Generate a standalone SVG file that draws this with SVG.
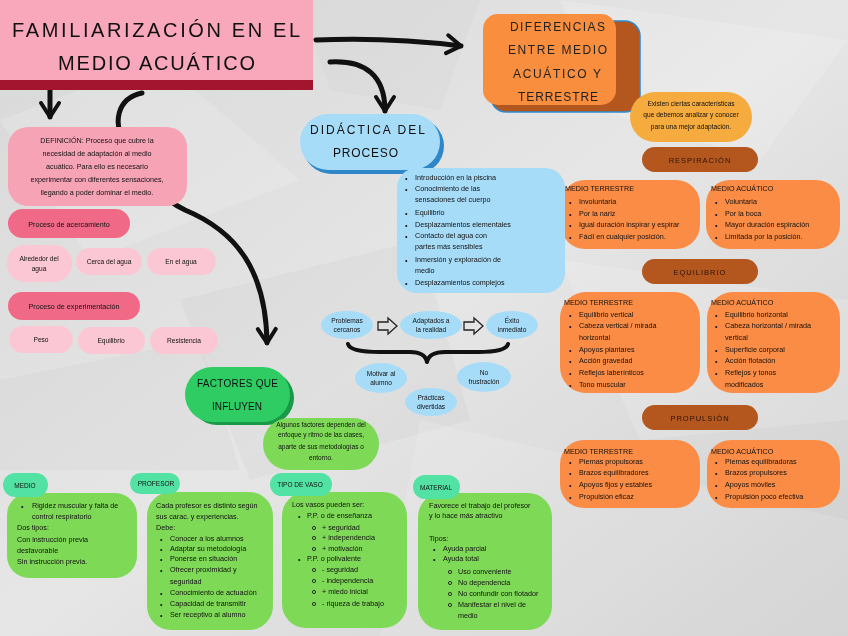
<svg xmlns="http://www.w3.org/2000/svg" width="848" height="636" viewBox="0 0 848 636">
<defs>
<linearGradient id="bg" x1="0" y1="0" x2="1" y2="1">
<stop offset="0" stop-color="#d8d8d8"/><stop offset="0.5" stop-color="#e6e6e6"/><stop offset="1" stop-color="#cfcfcf"/>
</linearGradient>
<marker id="chev" viewBox="0 0 24 24" markerWidth="24" markerHeight="24" refX="19" refY="12" orient="auto" markerUnits="userSpaceOnUse">
<path d="M5,3 L19,12 L5,21" fill="none" stroke="#111" stroke-width="4" stroke-linecap="round" stroke-linejoin="round"/>
</marker>
<style>
text{font-family:"Liberation Sans",Arial,sans-serif;fill:#111}
.s{font-size:7.2px}
.xs{font-size:6.6px}
.c{text-anchor:middle}
.hd{font-size:12px;fill:#222}
.pill{font-size:7.5px;letter-spacing:1px;fill:#2a1408}
.lb{font-size:6.5px}
.conn{fill:none;stroke:#111;stroke-width:5;stroke-linecap:round}
.orange{fill:#fb8c45}
.brown{fill:#b4571f}
.lblue{fill:#a7dcf8}
.lgreen{fill:#7ed957}
.teal{fill:#52e3a4}
.lpink{fill:#fcc7d4}
.dpink{fill:#f06a88}
</style>
</defs>
<rect width="848" height="636" fill="url(#bg)"/>
<g opacity="0.5">
<polygon points="0,120 160,60 300,180 90,260" fill="#fff" opacity="0.3"/>
<polygon points="560,0 848,40 760,160 600,110" fill="#fff" opacity="0.35"/>
<polygon points="180,300 420,240 470,420 250,480" fill="#bdbdbd" opacity="0.25"/>
<polygon points="560,260 848,300 848,420 640,440" fill="#fff" opacity="0.3"/>
<polygon points="0,380 200,340 240,470 0,470" fill="#c4c4c4" opacity="0.3"/>
<polygon points="420,420 848,520 848,636 380,636" fill="#fff" opacity="0.25"/>
<polygon points="300,0 480,0 440,110 330,90" fill="#c8c8c8" opacity="0.3"/>
</g>

<g id="connectors">
<path class="conn" d="M316,40 Q390,37 461,46" marker-end="url(#chev)"/>
<path class="conn" d="M330,62 C366,60 385,76 385,111" marker-end="url(#chev)"/>
<path class="conn" d="M50,90 L50,117" stroke-width="3" marker-end="url(#chev)"/>
<path class="conn" d="M142,93 C118,98 110,122 128,150 C145,178 160,198 185,210 C238,232 266,272 267,343" marker-end="url(#chev)"/>
<path d="M348,344 Q350,352 380,352 L410,352 Q425,352 427,362 Q429,352 445,352 L478,352 Q506,352 508,344" fill="none" stroke="#111" stroke-width="4" stroke-linecap="round" stroke-linejoin="round"/>
<path d="M378,322 L388,322 L388,318 L397,326 L388,334 L388,330 L378,330 Z" fill="none" stroke="#222" stroke-width="1.3"/>
<path d="M464,322 L474,322 L474,318 L483,326 L474,334 L474,330 L464,330 Z" fill="none" stroke="#222" stroke-width="1.3"/>
</g>

<g id="title">
<rect x="0" y="0" width="313" height="90" fill="#a3152f"/>
<rect x="0" y="0" width="313" height="80" fill="#f9a8bc"/>
<text x="12" y="37" font-size="20" textLength="288" lengthAdjust="spacing" fill="#222">FAMILIARIZACIÓN EN EL</text>
<text x="58" y="70" font-size="20" textLength="197" lengthAdjust="spacing" fill="#222">MEDIO ACUÁTICO</text>
</g>

<g id="diferencias">
<rect x="491" y="21" width="149" height="91" rx="15" fill="#b4571f" stroke="#2d8bd0" stroke-width="1.5"/>
<rect x="483" y="14" width="133" height="91" rx="15" fill="#f98e3f"/>
<text x="510" y="31" class="hd" textLength="95" lengthAdjust="spacing">DIFERENCIAS</text>
<text x="508" y="54" class="hd" textLength="99" lengthAdjust="spacing">ENTRE MEDIO</text>
<text x="513" y="78" class="hd" textLength="88" lengthAdjust="spacing">ACUÁTICO Y</text>
<text x="518" y="101" class="hd" textLength="80" lengthAdjust="spacing">TERRESTRE</text>
</g>

<g id="caracteristicas">
<rect x="630" y="92" width="122" height="50" rx="25" fill="#f6ab3e"/>
<text x="691" y="106" class="xs c">Existen ciertas características</text>
<text x="691" y="117" class="xs c">que debemos analizar y conocer</text>
<text x="691" y="129" class="xs c">para una mejor adaptación.</text>
</g>

<g id="respiracion">
<rect x="642" y="147" width="116" height="25" rx="12.5" class="brown"/>
<text x="700" y="163" class="pill c">RESPIRACIÓN</text>
</g>
<g id="resp-terrestre">
<rect x="561" y="180" width="139" height="69" rx="24" class="orange"/>
<text x="565" y="191" class="s">MEDIO TERRESTRE</text>
<text x="569" y="205" class="s">•</text><text x="579" y="204" class="s">Involuntaria</text>
<text x="569" y="217" class="s">•</text><text x="579" y="216" class="s">Por la nariz</text>
<text x="569" y="228" class="s">•</text><text x="579" y="227" class="s">Igual duración inspirar y espirar</text>
<text x="569" y="240" class="s">•</text><text x="579" y="239" class="s">Fácil en cualquier posición.</text>
</g>
<g id="resp-acuatico">
<rect x="706" y="180" width="134" height="69" rx="24" class="orange"/>
<text x="711" y="191" class="s">MEDIO ACUÁTICO</text>
<text x="715" y="205" class="s">•</text><text x="725" y="204" class="s">Voluntaria</text>
<text x="715" y="217" class="s">•</text><text x="725" y="216" class="s">Por la boca</text>
<text x="715" y="228" class="s">•</text><text x="725" y="227" class="s">Mayor duración espiración</text>
<text x="715" y="240" class="s">•</text><text x="725" y="239" class="s">Limitada por la posición.</text>
</g>

<g id="equilibrio">
<rect x="642" y="259" width="116" height="25" rx="12.5" class="brown"/>
<text x="700" y="275" class="pill c">EQUILIBRIO</text>
</g>
<g id="eq-terrestre">
<rect x="560" y="292" width="140" height="101" rx="26" class="orange"/>
<text x="564" y="305" class="s">MEDIO TERRESTRE</text>
<text x="569" y="318" class="s">•</text><text x="579" y="317" class="s">Equilibrio vertical</text>
<text x="569" y="329" class="s">•</text><text x="579" y="328" class="s">Cabeza vertical / mirada</text>
<text x="579" y="340" class="s">horizontal</text>
<text x="569" y="353" class="s">•</text><text x="579" y="352" class="s">Apoyos plantares</text>
<text x="569" y="364" class="s">•</text><text x="579" y="363" class="s">Acción gravedad</text>
<text x="569" y="376" class="s">•</text><text x="579" y="375" class="s">Reflejos laberínticos</text>
<text x="569" y="388" class="s">•</text><text x="579" y="387" class="s">Tono muscular</text>
</g>
<g id="eq-acuatico">
<rect x="707" y="292" width="133" height="101" rx="26" class="orange"/>
<text x="711" y="305" class="s">MEDIO ACUÁTICO</text>
<text x="715" y="318" class="s">•</text><text x="725" y="317" class="s">Equilibrio horizontal</text>
<text x="715" y="329" class="s">•</text><text x="725" y="328" class="s">Cabeza horizontal / mirada</text>
<text x="725" y="340" class="s">vertical</text>
<text x="715" y="353" class="s">•</text><text x="725" y="352" class="s">Superficie corporal</text>
<text x="715" y="364" class="s">•</text><text x="725" y="363" class="s">Acción flotación</text>
<text x="715" y="376" class="s">•</text><text x="725" y="375" class="s">Reflejos y tonos</text>
<text x="725" y="387" class="s">modificados</text>
</g>

<g id="propulsion">
<rect x="642" y="405" width="116" height="25" rx="12.5" class="brown"/>
<text x="700" y="421" class="pill c">PROPULSIÓN</text>
</g>
<g id="prop-terrestre">
<rect x="560" y="440" width="140" height="68" rx="24" class="orange"/>
<text x="564" y="454" class="s">MEDIO TERRESTRE</text>
<text x="569" y="465" class="s">•</text><text x="579" y="464" class="s">Piernas propulsoras</text>
<text x="569" y="476" class="s">•</text><text x="579" y="475" class="s">Brazos equilibradores</text>
<text x="569" y="488" class="s">•</text><text x="579" y="487" class="s">Apoyos fijos y estables</text>
<text x="569" y="500" class="s">•</text><text x="579" y="499" class="s">Propulsión eficaz</text>
</g>
<g id="prop-acuatico">
<rect x="707" y="440" width="133" height="68" rx="24" class="orange"/>
<text x="711" y="454" class="s">MEDIO ACUÁTICO</text>
<text x="715" y="465" class="s">•</text><text x="725" y="464" class="s">Piernas equilibradoras</text>
<text x="715" y="476" class="s">•</text><text x="725" y="475" class="s">Brazos propulsores</text>
<text x="715" y="488" class="s">•</text><text x="725" y="487" class="s">Apoyos móviles</text>
<text x="715" y="500" class="s">•</text><text x="725" y="499" class="s">Propulsión poco efectiva</text>
</g>

<g id="definicion">
<rect x="8" y="127" width="179" height="79" rx="20" fill="#f7a3b6"/>
<text x="97" y="143" class="s c">DEFINICIÓN: Proceso que cubre la</text>
<text x="97" y="156" class="s c">necesidad de adaptación al medio</text>
<text x="97" y="169" class="s c">acuático. Para ello es necesario</text>
<text x="97" y="182" class="s c">experimentar con diferentes sensaciones,</text>
<text x="97" y="195" class="s c">llegando a poder dominar el medio.</text>
</g>

<g id="acercamiento">
<rect x="8" y="209" width="122" height="29" rx="14.5" class="dpink"/>
<text x="69" y="227" class="s c">Proceso de acercamiento</text>
</g>
<g id="alrededor">
<rect x="7" y="245" width="65" height="37" rx="18" class="lpink"/>
<text x="39" y="261" class="xs c">Alrededor del</text>
<text x="39" y="271" class="xs c">agua</text>
</g>
<g id="cerca">
<rect x="76" y="248" width="66" height="27" rx="13.5" class="lpink"/>
<text x="109" y="264" class="xs c">Cerca del agua</text>
</g>
<g id="en-agua">
<rect x="147" y="248" width="69" height="27" rx="13.5" class="lpink"/>
<text x="181" y="264" class="xs c">En el agua</text>
</g>

<g id="experimentacion">
<rect x="8" y="292" width="132" height="28" rx="14" class="dpink"/>
<text x="74" y="309" class="s c">Proceso de experimentación</text>
</g>
<g id="peso">
<rect x="9" y="326" width="64" height="27" rx="13.5" class="lpink"/>
<text x="41" y="342" class="xs c">Peso</text>
</g>
<g id="equilibrio-p">
<rect x="78" y="327" width="67" height="27" rx="13.5" class="lpink"/>
<text x="111" y="343" class="xs c">Equilibrio</text>
</g>
<g id="resistencia">
<rect x="150" y="327" width="68" height="27" rx="13.5" class="lpink"/>
<text x="184" y="343" class="xs c">Resistencia</text>
</g>

<g id="didactica">
<rect x="303" y="118" width="141" height="56" rx="28" fill="#2f86c8"/>
<rect x="300" y="114" width="140" height="56" rx="28" class="lblue"/>
<text x="310" y="134" font-size="12" textLength="115" lengthAdjust="spacing" fill="#222">DIDÁCTICA DEL</text>
<text x="333" y="157" font-size="12" textLength="65" lengthAdjust="spacing" fill="#222">PROCESO</text>
</g>

<g id="didactica-lista">
<rect x="397" y="168" width="168" height="125" rx="20" class="lblue"/>
<text x="405" y="181" class="s">•</text><text x="415" y="180" class="s">Introducción en la piscina</text>
<text x="405" y="192" class="s">•</text><text x="415" y="191" class="s">Conocimiento de las</text>
<text x="415" y="202" class="s">sensaciones del cuerpo</text>
<text x="405" y="216" class="s">•</text><text x="415" y="215" class="s">Equilibrio</text>
<text x="405" y="228" class="s">•</text><text x="415" y="227" class="s">Desplazamientos elementales</text>
<text x="405" y="239" class="s">•</text><text x="415" y="238" class="s">Contacto del agua con</text>
<text x="415" y="249" class="s">partes más sensibles</text>
<text x="405" y="263" class="s">•</text><text x="415" y="262" class="s">Inmersión y exploración de</text>
<text x="415" y="273" class="s">medio</text>
<text x="405" y="286" class="s">•</text><text x="415" y="285" class="s">Desplazamientos complejos</text>
</g>

<g id="problemas">
<ellipse cx="347" cy="325" rx="26" ry="14" class="lblue"/>
<text x="347" y="323" class="xs c">Problemas</text>
<text x="347" y="332" class="xs c">cercanos</text>
</g>
<g id="adaptados">
<ellipse cx="431" cy="325" rx="31" ry="14" class="lblue"/>
<text x="431" y="323" class="xs c">Adaptados a</text>
<text x="431" y="332" class="xs c">la realidad</text>
</g>
<g id="exito">
<ellipse cx="512" cy="325" rx="26" ry="14" class="lblue"/>
<text x="512" y="323" class="xs c">Éxito</text>
<text x="512" y="332" class="xs c">inmediato</text>
</g>
<g id="motivar">
<ellipse cx="381" cy="378" rx="26" ry="15" class="lblue"/>
<text x="381" y="376" class="xs c">Motivar al</text>
<text x="381" y="385" class="xs c">alumno</text>
</g>
<g id="frustracion">
<ellipse cx="484" cy="377" rx="27" ry="15" class="lblue"/>
<text x="484" y="375" class="xs c">No</text>
<text x="484" y="384" class="xs c">frustración</text>
</g>
<g id="practicas">
<ellipse cx="431" cy="402" rx="26" ry="14" class="lblue"/>
<text x="431" y="400" class="xs c">Prácticas</text>
<text x="431" y="409" class="xs c">divertidas</text>
</g>

<g id="factores">
<rect x="190" y="371" width="104" height="54" rx="27" fill="#1a9a49"/>
<rect x="185" y="367" width="105" height="55" rx="27.5" fill="#2ecc62"/>
<text x="197" y="387" font-size="10" textLength="81" lengthAdjust="spacing" fill="#222">FACTORES QUE</text>
<text x="212" y="410" font-size="10" textLength="50" lengthAdjust="spacing" fill="#222">INFLUYEN</text>
</g>

<g id="algunos">
<rect x="263" y="418" width="116" height="52" rx="26" class="lgreen"/>
<text x="321" y="427" class="lb c">Algunos factores dependen del</text>
<text x="321" y="437" class="lb c">enfoque y ritmo de las clases,</text>
<text x="321" y="449" class="lb c">aparte de sus metodologías o</text>
<text x="321" y="460" class="lb c">entorno.</text>
</g>

<g id="medio">
<rect x="7" y="493" width="130" height="85" rx="22" class="lgreen"/>
<rect x="3" y="473" width="45" height="24" rx="12" class="teal"/>
<text x="25" y="488" class="lb c">MEDIO</text>
<text x="21" y="509" class="s">•</text><text x="32" y="508" class="s">Rigidez muscular y falta de</text>
<text x="32" y="519" class="s">control respiratorio</text>
<text x="17" y="530" class="s">Dos tipos:</text>
<text x="17" y="542" class="s">Con instrucción previa</text>
<text x="17" y="553" class="s">desfavorable</text>
<text x="17" y="564" class="s">Sin instrucción previa.</text>
</g>

<g id="profesor">
<rect x="147" y="492" width="126" height="138" rx="24" class="lgreen"/>
<rect x="130" y="473" width="50" height="21" rx="10.5" class="teal"/>
<text x="156" y="486" class="lb c">PROFESOR</text>
<text x="156" y="508" class="s">Cada profesor es distinto según</text>
<text x="156" y="519" class="s">sus carac. y experiencias.</text>
<text x="156" y="530" class="s">Debe:</text>
<text x="160" y="542" class="s">•</text><text x="170" y="541" class="s">Conocer a los alumnos</text>
<text x="160" y="552" class="s">•</text><text x="170" y="551" class="s">Adaptar su metodología</text>
<text x="160" y="562" class="s">•</text><text x="170" y="561" class="s">Ponerse en situación</text>
<text x="160" y="573" class="s">•</text><text x="170" y="572" class="s">Ofrecer proximidad y</text>
<text x="170" y="584" class="s">seguridad</text>
<text x="160" y="596" class="s">•</text><text x="170" y="595" class="s">Conocimiento de actuación</text>
<text x="160" y="607" class="s">•</text><text x="170" y="606" class="s">Capacidad de transmitir</text>
<text x="160" y="618" class="s">•</text><text x="170" y="617" class="s">Ser receptivo al alumno</text>
</g>

<g id="tipo-vaso">
<rect x="282" y="492" width="125" height="136" rx="24" class="lgreen"/>
<rect x="270" y="473" width="62" height="23" rx="11.5" class="teal"/>
<text x="300" y="487" class="lb c">TIPO DE VASO</text>
<text x="292" y="507" class="s">Los vasos pueden ser:</text>
<text x="298" y="519" class="s">•</text><text x="307" y="518" class="s">P.P. o de enseñanza</text>
<g fill="none" stroke="#222" stroke-width="0.9">
<circle cx="314" cy="528" r="1.6"/><circle cx="314" cy="538" r="1.6"/><circle cx="314" cy="549" r="1.6"/>
<circle cx="314" cy="570" r="1.6"/><circle cx="314" cy="581" r="1.6"/><circle cx="314" cy="592" r="1.6"/><circle cx="314" cy="604" r="1.6"/>
</g>
<text x="322" y="530" class="s">+ seguridad</text>
<text x="322" y="540" class="s">+ independencia</text>
<text x="322" y="551" class="s">+ motivación</text>
<text x="298" y="562" class="s">•</text><text x="307" y="561" class="s">P.P. o polivalente</text>
<text x="322" y="572" class="s">- seguridad</text>
<text x="322" y="583" class="s">- independencia</text>
<text x="322" y="594" class="s">+ miedo inicial</text>
<text x="322" y="606" class="s">- riqueza de trabajo</text>
</g>

<g id="material">
<rect x="418" y="493" width="134" height="137" rx="24" class="lgreen"/>
<rect x="413" y="475" width="47" height="24" rx="12" class="teal"/>
<text x="436" y="490" class="lb c">MATERIAL</text>
<text x="429" y="508" class="s">Favorece el trabajo del profesor</text>
<text x="429" y="518" class="s">y lo hace más atractivo</text>
<text x="429" y="541" class="s">Tipos:</text>
<text x="433" y="552" class="s">•</text><text x="443" y="551" class="s">Ayuda parcial</text>
<text x="433" y="562" class="s">•</text><text x="443" y="561" class="s">Ayuda total</text>
<g fill="none" stroke="#222" stroke-width="0.9">
<circle cx="450" cy="572" r="1.6"/><circle cx="450" cy="583" r="1.6"/><circle cx="450" cy="594" r="1.6"/><circle cx="450" cy="605" r="1.6"/>
</g>
<text x="458" y="574" class="s">Uso conveniente</text>
<text x="458" y="585" class="s">No dependencia</text>
<text x="458" y="596" class="s">No confundir con flotador</text>
<text x="458" y="607" class="s">Manifestar el nivel de</text>
<text x="458" y="618" class="s">medio</text>
</g>
</svg>
